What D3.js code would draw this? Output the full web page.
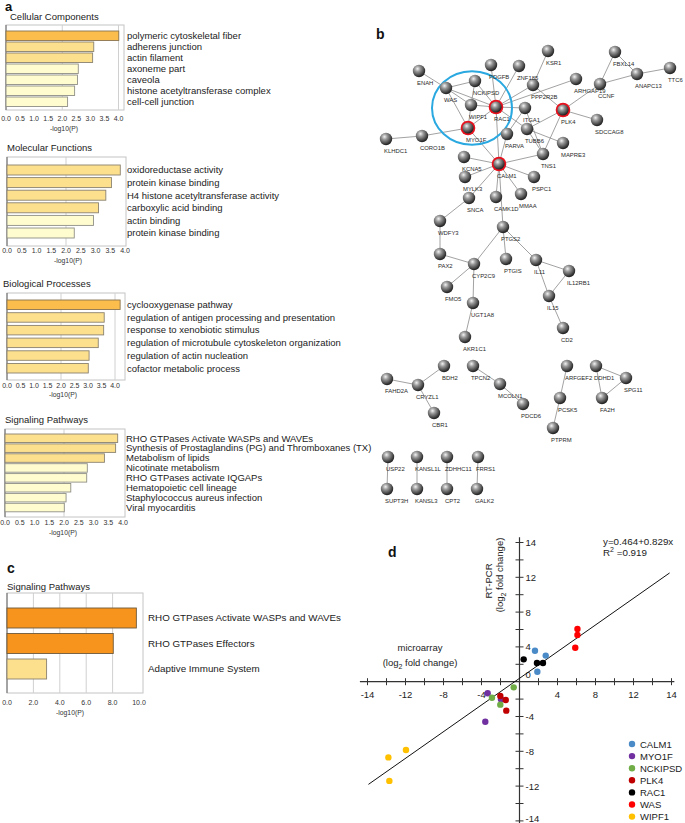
<!DOCTYPE html>
<html><head><meta charset="utf-8">
<script src="https://cdn.jsdelivr.net/npm/d3@7"></script>
<style>body{margin:0;background:#fff} svg{display:block;font-family:Arial,"Liberation Sans",sans-serif}</style>
</head><body><svg id="c" width="685" height="823"></svg>
<script>
// ---------------- DATA ----------------
// panel a: enrichment terms, -log10(P), colour level (0 pale ... 2 dark)
const ccTerms = ["polymeric cytoskeletal fiber","adherens junction","actin filament","axoneme part","caveola","histone acetyltransferase complex","cell-cell junction"];
const ccValues = [4.01,3.12,3.08,2.57,2.54,2.44,2.19];
const ccLevels = [2,1,1,0,0,0,0];
const mfTerms = ["oxidoreductase activity","protein kinase binding","H4 histone acetyltransferase activity","carboxylic acid binding","actin binding","protein kinase binding"];
const mfValues = [3.84,3.54,3.35,3.10,2.93,2.28];
const mfLevels = [1,1,1,1,0,0];
const bpTerms = ["cyclooxygenase pathway","regulation of antigen processing and presentation","response to xenobiotic stimulus","regulation of microtubule cytoskeleton organization","regulation of actin nucleation","cofactor metabolic process"];
const bpValues = [4.19,3.60,3.58,3.38,3.04,3.01];
const bpLevels = [2,1,1,1,1,1];
const spTerms = ["RHO GTPases Activate WASPs and WAVEs","Synthesis of Prostaglandins (PG) and Thromboxanes (TX)","Metabolism of lipids","Nicotinate metabolism","RHO GTPases activate IQGAPs","Hematopoietic cell lineage","Staphylococcus aureus infection","Viral myocarditis"];
const spValues = [3.82,3.75,3.37,2.79,2.77,2.23,2.07,2.01];
const spLevels = [1,1,1,0,0,0,0,0];
const aTicks = [0,0.5,1,1.5,2,2.5,3,3.5,4];
// panel c
const cTerms = ["RHO GTPases Activate WASPs and WAVEs","RHO GTPases Effectors","Adaptive Immune System"];
const cValues = [9.8,8.05,3.0];
const cLevels = [3,3,1];
const cTicks = [0,2,4,6,8,10];
// panel b: network (layout coordinates), hub flag
const netNodes = [
 ["KSR1",168,11,0],["FBXL14",235,12,0],["TTC6",290,28,0],["ANAPC13",257,34,0],["CCNF",220,44,0],
 ["ARHGAP19",196,39,0],["PPP2R2B",153,45,0],["ZNF185",139,26,0],["PDGFB",111,25,0],["ENAH",39,31,0],
 ["NCKIPSD",95,41,0],["WAS",66,48,0],["WIPF1",91,65,0],["RAC1",116,67,1],["ITGA1",145,68,0],
 ["PLK4",183,70,1],["SDCCAG8",217,80,0],["MYO1F",88,88,1],["TUBB6",147,89,0],["PARVA",127,94,0],
 ["KLHDC1",6,99,0],["CORO1B",42,96,0],["MAPRE3",183,103,0],["TNS1",163,114,0],["CALM1",119,124,1],
 ["KCNA5",84,117,0],["MYLK3",85,137,0],["PSPC1",154,137,0],["MMAA",141,154,0],["CAMK1D",116,157,0],
 ["SNCA",89,158,0],["WDFY3",60,181,0],["PTGS2",123,187,0],["PAX2",60,214,0],["CYP2C9",94,224,0],
 ["PTGIS",126,219,0],["IL11",156,220,0],["IL12RB1",189,231,0],["FMO5",67,247,0],["UGT1A8",93,263,0],
 ["IL15",169,256,0],["CD2",183,288,0],["AKR1C1",85,297,0],
 ["FAHD2A",7,339,0],["CRYZL1",38,345,0],["BDH2",64,326,0],["CBR1",54,373,0],
 ["TPCN2",93,326,0],["MCOLN1",120,344,0],["PDCD6",143,364,0],
 ["ARFGEF2",187,326,0],["PCSK5",180,358,0],["PTPRM",173,388,0],
 ["DDHD1",216,326,0],["SPG11",246,338,0],["FA2H",222,358,0],
 ["USP22",8,417,0],["KANSL1L",37,417,0],["ZDHHC11",67,417,0],["FRRS1",98,417,0],
 ["SUPT3H",7,449,0],["KANSL3",37,449,0],["CPT2",67,449,0],["GALK2",97,449,0]
];
const netEdges = [
 ["ENAH","WAS"],["WAS","NCKIPSD"],["WAS","RAC1"],["WAS","WIPF1"],["WAS","MYO1F"],["NCKIPSD","WIPF1"],
 ["NCKIPSD","RAC1"],["WIPF1","RAC1"],["WIPF1","MYO1F"],["MYO1F","RAC1"],["MYO1F","CORO1B"],["CORO1B","KLHDC1"],
 ["MYO1F","CALM1"],["PDGFB","RAC1"],["ZNF185","RAC1"],["RAC1","PPP2R2B"],["RAC1","ARHGAP19"],["RAC1","ITGA1"],
 ["RAC1","TUBB6"],["RAC1","CALM1"],["KSR1","PPP2R2B"],["PPP2R2B","PLK4"],["PLK4","CCNF"],["CCNF","FBXL14"],
 ["CCNF","ANAPC13"],["FBXL14","ANAPC13"],["ANAPC13","TTC6"],["PLK4","SDCCAG8"],["PLK4","TUBB6"],["PLK4","TNS1"],
 ["TUBB6","MAPRE3"],["TUBB6","TNS1"],["ITGA1","TNS1"],["ITGA1","PARVA"],["PARVA","CALM1"],["CALM1","TNS1"],
 ["CALM1","KCNA5"],["CALM1","MYLK3"],["CALM1","PSPC1"],["CALM1","MMAA"],["CALM1","CAMK1D"],["CALM1","SNCA"],
 ["CALM1","PTGS2"],["SNCA","WDFY3"],["WDFY3","PAX2"],["PAX2","CYP2C9"],["PTGS2","CYP2C9"],["PTGS2","PTGIS"],
 ["PTGS2","IL11"],["IL11","IL12RB1"],["IL11","IL15"],["IL12RB1","IL15"],["IL15","CD2"],["CYP2C9","FMO5"],
 ["CYP2C9","UGT1A8"],["UGT1A8","AKR1C1"],
 ["FAHD2A","CRYZL1"],["CRYZL1","BDH2"],["CRYZL1","CBR1"],["TPCN2","MCOLN1"],["MCOLN1","PDCD6"],
 ["ARFGEF2","PCSK5"],["PCSK5","PTPRM"],["DDHD1","SPG11"],["DDHD1","FA2H"],["SPG11","FA2H"],
 ["USP22","SUPT3H"],["KANSL1L","KANSL3"],["ZDHHC11","CPT2"],["FRRS1","GALK2"]
];
const moduleCircle = [92,68,40]; // layout cx, cy, r
// panel d: microarray vs RT-PCR (log2 fold change)
const genes = ["CALM1","MYO1F","NCKIPSD","PLK4","RAC1","WAS","WIPF1"];
const geneColors = ["#4a8ac6","#7030a0","#70ad47","#c00000","#000000","#ff0000","#ffc000"];
const microarrayFC = [[1.63,2.76,1.88],[-3.35,-1.95,-3.6],[-0.61,-2.9,-2.02],[-2.02,-1.45,-1.39],[0.44,1.84,2.47],[6.1,6.1,5.87],[-11.95,-13.8,-13.7]];
const rtpcrFC = [[3.56,3.0,1.15],[-1.33,-2.02,-4.6],[-0.65,-1.84,-2.64],[-1.64,-2.1,-3.33],[2.57,2.15,2.15],[6.06,5.37,3.9],[-7.85,-8.7,-11.4]];
const fitX = [-15.9,15.8];
const fitY = [-11.8,12.5];
const dXTickVals = [-16,-12,-8,-4,4,8,12,16];
const dXTickLabels = ["-14","-12","-8","-4","4","8","12","14"];
const dYTickVals = [16,12,8,4,0,-4,-8,-12,-16];
const dYTickLabels = ["14","12","8","4","0","-4","-8","-12","-14"];

// ---------------- DRAW ----------------
const svg = d3.select("#c");
const levelFill = ["#fffcd0","#fde08e","#fbbe4c","#f7941d"];
const levelStroke = ["#8f8f86","#8a8270","#8a7450","#6e5a3c"];

function barPanel(p) {
  const g = svg.append("g");
  const x = d3.scaleLinear().domain([0, p.xMax]).range([p.x0, p.x1]);
  const yi = d3.scaleLinear().domain([0, 1]).range([p.barTop, p.barTop + p.step]);
  g.append("text").attr("x", p.titleX).attr("y", p.titleY).attr("font-size", 9.5).attr("fill", "#222").text(p.title);
  g.append("rect").attr("x", p.frameL).attr("y", p.frameT).attr("width", p.frameR - p.frameL)
    .attr("height", p.frameB - p.frameT).attr("fill", "none").attr("stroke", "#c4c4c4").attr("stroke-width", 1);
  g.selectAll(".grid").data(p.grid).join("line")
    .attr("x1", d => x(d)).attr("x2", d => x(d)).attr("y1", p.frameT).attr("y2", p.frameB)
    .attr("stroke", "#d0d0d0").attr("stroke-width", 1);
  g.append("line").attr("x1", p.frameL).attr("x2", p.frameL).attr("y1", p.frameT).attr("y2", p.frameB)
    .attr("stroke", "#666").attr("stroke-width", 1);
  g.selectAll(".bar").data(p.values).join("rect")
    .attr("x", x(0)).attr("y", (d, i) => yi(i)).attr("width", d => x(d) - x(0)).attr("height", p.barH)
    .attr("fill", (d, i) => levelFill[p.levels[i]]).attr("stroke", (d, i) => levelStroke[p.levels[i]]).attr("stroke-width", 0.9);
  g.selectAll(".lab").data(p.terms).join("text")
    .attr("x", p.labelX).attr("y", (d, i) => yi(i) + p.barH / 2 + p.fs * 0.35)
    .attr("font-size", p.fs).attr("fill", "#222").text(d => d);
  g.selectAll(".tick").data(p.ticks).join("text")
    .attr("x", d => x(d)).attr("y", p.tickY).attr("text-anchor", "middle")
    .attr("font-size", 7).attr("fill", "#333").text(d => d.toFixed(1));
  g.append("text").attr("x", p.axisTitleX).attr("y", p.axisTitleY).attr("text-anchor", "middle")
    .attr("font-size", 6.8).attr("fill", "#333").text("-log10(P)");
}

function panelLetter(t, x, y, fs) {
  svg.append("text").attr("x", x).attr("y", y).attr("font-size", fs || 14).attr("font-weight", "bold").attr("fill", "#111").text(t);
}

// Panel a
panelLetter("a", 5, 11, 13);
barPanel({title:"Cellular Components", titleX:10, titleY:20, terms:ccTerms, values:ccValues, levels:ccLevels,
  xMax:4, x0:6, x1:118.5, frameL:6, frameR:124, frameT:25, frameB:110, barTop:31, step:11, barH:9.5,
  grid:[2,4], ticks:aTicks, tickY:121, axisTitleX:64, axisTitleY:131, labelX:127, fs:9.5});
barPanel({title:"Molecular Functions", titleX:7, titleY:151, terms:mfTerms, values:mfValues, levels:mfLevels,
  xMax:4, x0:7, x1:125, frameL:7, frameR:126, frameT:157, frameB:246, barTop:165, step:12.6, barH:10,
  grid:[2], ticks:aTicks, tickY:253, axisTitleX:68, axisTitleY:263, labelX:127, fs:9.5});
barPanel({title:"Biological Processes", titleX:3, titleY:287, terms:bpTerms, values:bpValues, levels:bpLevels,
  xMax:4, x0:7, x1:115, frameL:7, frameR:125, frameT:293, frameB:380, barTop:300, step:12.7, barH:9.5,
  grid:[2,4], ticks:aTicks, tickY:388, axisTitleX:63, axisTitleY:397, labelX:127, fs:9.5});
barPanel({title:"Signaling Pathways", titleX:5, titleY:423, terms:spTerms, values:spValues, levels:spLevels,
  xMax:4, x0:5, x1:123, frameL:5, frameR:125, frameT:429, frameB:517, barTop:434, step:9.9, barH:8.5,
  grid:[2], ticks:aTicks, tickY:525, axisTitleX:63, axisTitleY:535, labelX:126, fs:9.5});

// Panel c
panelLetter("c", 7, 573);
barPanel({title:"Signaling Pathways", titleX:7, titleY:590, terms:cTerms, values:cValues, levels:cLevels,
  xMax:10, x0:7, x1:139, frameL:7, frameR:143, frameT:593, frameB:693, barTop:608, step:25.5, barH:20,
  grid:[2,4,6,8], ticks:cTicks, tickY:705, axisTitleX:70, axisTitleY:715, labelX:148, fs:9.8});

// Panel b network
panelLetter("b", 376, 39);
const defs = svg.append("defs");
const grad = defs.append("radialGradient").attr("id", "ball").attr("cx", "38%").attr("cy", "32%").attr("r", "65%");
grad.append("stop").attr("offset", "0%").attr("stop-color", "#f2f2f2");
grad.append("stop").attr("offset", "35%").attr("stop-color", "#9a9a9a");
grad.append("stop").attr("offset", "100%").attr("stop-color", "#262626");
const nx = d3.scaleLinear().domain([0, 300]).range([380, 680]);
const ny = d3.scaleLinear().domain([0, 460]).range([40, 500]);
const nodeMap = new Map(netNodes.map(n => [n[0], n]));
const gb = svg.append("g");
gb.selectAll(".edge").data(netEdges).join("line")
  .attr("x1", e => nx(nodeMap.get(e[0])[1])).attr("y1", e => ny(nodeMap.get(e[0])[2]))
  .attr("x2", e => nx(nodeMap.get(e[1])[1])).attr("y2", e => ny(nodeMap.get(e[1])[2]))
  .attr("stroke", "#8a8a8a").attr("stroke-width", 0.8);
gb.append("ellipse").attr("cx", nx(moduleCircle[0])).attr("cy", ny(moduleCircle[1]))
  .attr("rx", nx(moduleCircle[2]) - nx(0)).attr("ry", (ny(moduleCircle[2]) - ny(0)) * 0.92)
  .attr("fill", "none").attr("stroke", "#2aa8e0").attr("stroke-width", 2);
gb.selectAll(".hub").data(netNodes.filter(n => n[3])).join("circle")
  .attr("cx", n => nx(n[1])).attr("cy", n => ny(n[2])).attr("r", 7.3)
  .attr("fill", "#e8101c");
gb.selectAll(".node").data(netNodes).join("circle")
  .attr("cx", n => nx(n[1])).attr("cy", n => ny(n[2])).attr("r", n => n[3] ? 5.6 : 6.2)
  .attr("fill", "url(#ball)");
gb.selectAll(".nlab").data(netNodes).join("text")
  .attr("x", n => nx(n[1]) - 2).attr("y", n => ny(n[2]) + 13.5)
  .attr("font-size", 5.9).attr("fill", "#2a2a2a").text(n => n[0]);

// Panel d scatter
panelLetter("d", 388, 557);
const dx = d3.scaleLinear().domain([-16, 16]).range([367.5, 671.5]);
const dy = d3.scaleLinear().domain([-16, 16]).range([820.9, 542.5]);
const gd = svg.append("g");
gd.append("line").attr("x1", dx(-16.8)).attr("x2", dx(16.3)).attr("y1", dy(0)).attr("y2", dy(0)).attr("stroke", "#333").attr("stroke-width", 1.2);
gd.append("line").attr("x1", dx(0)).attr("x2", dx(0)).attr("y1", dy(16.6)).attr("y2", 823).attr("stroke", "#333").attr("stroke-width", 1.2);
const ticks2 = d3.range(-16, 17, 2).filter(v => v !== 0);
gd.selectAll(".xt").data(ticks2).join("line")
  .attr("x1", d => dx(d)).attr("x2", d => dx(d)).attr("y1", dy(0) - 3.5).attr("y2", dy(0) + 3.5).attr("stroke", "#333");
gd.selectAll(".yt").data(ticks2).join("line")
  .attr("y1", d => dy(d)).attr("y2", d => dy(d)).attr("x1", dx(0) - 4).attr("x2", dx(0) + 4).attr("stroke", "#333");
gd.selectAll(".xl").data(dXTickVals).join("text")
  .attr("x", d => dx(d)).attr("y", dy(0) + 16).attr("text-anchor", "middle").attr("font-size", 9.5).attr("fill", "#222")
  .text((d, i) => dXTickLabels[i]);
gd.selectAll(".yl").data(dYTickVals).join("text")
  .attr("x", dx(0) + 6).attr("y", d => Math.min(821.5, dy(d) + (d === 0 ? -3.5 : 3.5))).attr("font-size", 9.5).attr("fill", "#222")
  .text((d, i) => dYTickLabels[i]);
// fit line
gd.append("line").attr("x1", dx(fitX[0])).attr("y1", dy(fitY[0])).attr("x2", dx(fitX[1])).attr("y2", dy(fitY[1]))
  .attr("stroke", "#111").attr("stroke-width", 1);
// points
const pts = [];
genes.forEach((g, gi) => microarrayFC[gi].forEach((v, j) => pts.push({x: v, y: rtpcrFC[gi][j], c: geneColors[gi]})));
gd.selectAll(".pt").data(pts).join("circle")
  .attr("cx", d => dx(d.x)).attr("cy", d => dy(d.y)).attr("r", 3.2).attr("fill", d => d.c);
// axis titles
function log2Text(sel) {
  sel.append("tspan").text("(log");
  sel.append("tspan").attr("font-size", 7).attr("dy", 3).text("2");
  sel.append("tspan").attr("dy", -3).text(" fold change)");
}
gd.append("text").attr("x", 420).attr("y", 651).attr("text-anchor", "middle").attr("font-size", 9.5).attr("fill", "#222").text("microarray");
log2Text(gd.append("text").attr("x", 420).attr("y", 666).attr("text-anchor", "middle").attr("font-size", 9.5).attr("fill", "#222"));
gd.append("text").attr("transform", "translate(492,581) rotate(-90)").attr("text-anchor", "middle").attr("font-size", 9.5).attr("fill", "#222").text("RT-PCR");
log2Text(gd.append("text").attr("transform", "translate(503,575) rotate(-90)").attr("text-anchor", "middle").attr("font-size", 9.5).attr("fill", "#222"));
// equation
gd.append("text").attr("x", 603).attr("y", 545).attr("font-size", 9.8).attr("fill", "#222").text("y=0.464+0.829x");
const r2 = gd.append("text").attr("x", 603).attr("y", 556).attr("font-size", 9.8).attr("fill", "#222");
r2.append("tspan").text("R");
r2.append("tspan").attr("font-size", 7).attr("dy", -4).text("2");
r2.append("tspan").attr("dy", 4).text(" =0.919");
// legend
const ly = d3.scaleLinear().domain([0, 1]).range([744, 756.1]);
const lg = gd.selectAll(".leg").data(genes).join("g").attr("transform", (d, i) => `translate(632,${ly(i)})`);
lg.append("circle").attr("r", 3.2).attr("fill", (d, i) => geneColors[i]);
lg.append("text").attr("x", 8).attr("y", 3.5).attr("font-size", 9.5).attr("fill", "#222").text(d => d);
</script></body></html>
